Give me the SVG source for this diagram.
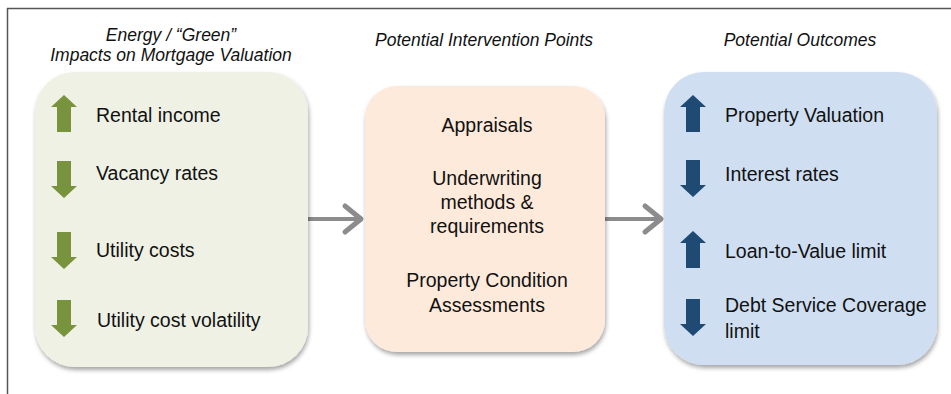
<svg xmlns="http://www.w3.org/2000/svg" width="951" height="394" viewBox="0 0 951 394">
<defs>
<style>
.hdr{font-family:"Liberation Sans",Arial,sans-serif;font-style:italic;font-size:17.5px;fill:#111;text-anchor:middle}
.t{font-family:"Liberation Sans",Arial,sans-serif;font-size:19.5px;fill:#111}
.tc{font-family:"Liberation Sans",Arial,sans-serif;font-size:19.5px;fill:#111;text-anchor:middle}
.conn{stroke:#8c8c8c;stroke-width:4;fill:none}
.head{stroke:#8c8c8c;stroke-width:5;fill:none;stroke-linecap:round;stroke-linejoin:round}
.g{fill:#77933c}
.b{fill:#1f4a73}
</style>
<filter id="sh" x="-10%" y="-10%" width="120%" height="120%">
<feDropShadow dx="1" dy="3" stdDeviation="2" flood-color="#000" flood-opacity="0.35"/>
</filter>
<polygon id="up" points="0,0 13,12 7,12 7,37 -7,37 -7,12 -13,12"/>
<polygon id="down" points="0,37 13,25 7,25 7,0 -7,0 -7,25 -13,25"/>
</defs>
<rect width="951" height="394" fill="#fff"/>
<g id="frame" stroke="#555" stroke-width="1.5" fill="none">
<line x1="7" y1="8.5" x2="951" y2="8.5"/>
<line x1="7.5" y1="8" x2="7.5" y2="394"/>
</g>
<g id="headers">
<text class="hdr" x="171" y="41">Energy / “Green”</text>
<text class="hdr" x="171" y="61">Impacts on Mortgage Valuation</text>
<text class="hdr" x="484" y="46">Potential Intervention Points</text>
<text class="hdr" x="800" y="46">Potential Outcomes</text>
</g>
<g id="connectors">
<line class="conn" x1="308" y1="219" x2="359" y2="219"/>
<polyline class="head" points="345,206 361,219 345,232"/>
<line class="conn" x1="605" y1="219" x2="659" y2="219"/>
<polyline class="head" points="645,206 661,219 645,232"/>
</g>
<g id="node-impacts">
<rect x="35" y="72" width="273" height="295" rx="40" fill="#eff1e5" filter="url(#sh)"/>
<use href="#up" x="64" y="95" class="g"/>
<use href="#down" x="64" y="161" class="g"/>
<use href="#down" x="64" y="232" class="g"/>
<use href="#down" x="64" y="300" class="g"/>
<text class="t" x="96" y="122">Rental income</text>
<text class="t" x="96" y="180">Vacancy rates</text>
<text class="t" x="96" y="257">Utility costs</text>
<text class="t" x="97" y="327">Utility cost volatility</text>
</g>
<g id="node-intervention">
<rect x="365" y="86" width="240" height="266" rx="32" fill="#fdeadb" filter="url(#sh)"/>
<text class="tc" x="487" y="132">Appraisals</text>
<text class="tc" x="487" y="185">Underwriting</text>
<text class="tc" x="487" y="209">methods &amp;</text>
<text class="tc" x="487" y="233">requirements</text>
<text class="tc" x="487" y="287">Property Condition</text>
<text class="tc" x="487" y="312">Assessments</text>
</g>
<g id="node-outcomes">
<rect x="664" y="72" width="273" height="293" rx="40" fill="#cfdff1" filter="url(#sh)"/>
<use href="#up" x="693" y="95" class="b"/>
<use href="#down" x="693" y="160" class="b"/>
<use href="#up" x="693" y="231" class="b"/>
<use href="#down" x="693" y="299" class="b"/>
<text class="t" x="725" y="122">Property Valuation</text>
<text class="t" x="725" y="181">Interest rates</text>
<text class="t" x="725" y="258">Loan-to-Value limit</text>
<text class="t" x="725" y="312">Debt Service Coverage</text>
<text class="t" x="725" y="338">limit</text>
</g>
</svg>
